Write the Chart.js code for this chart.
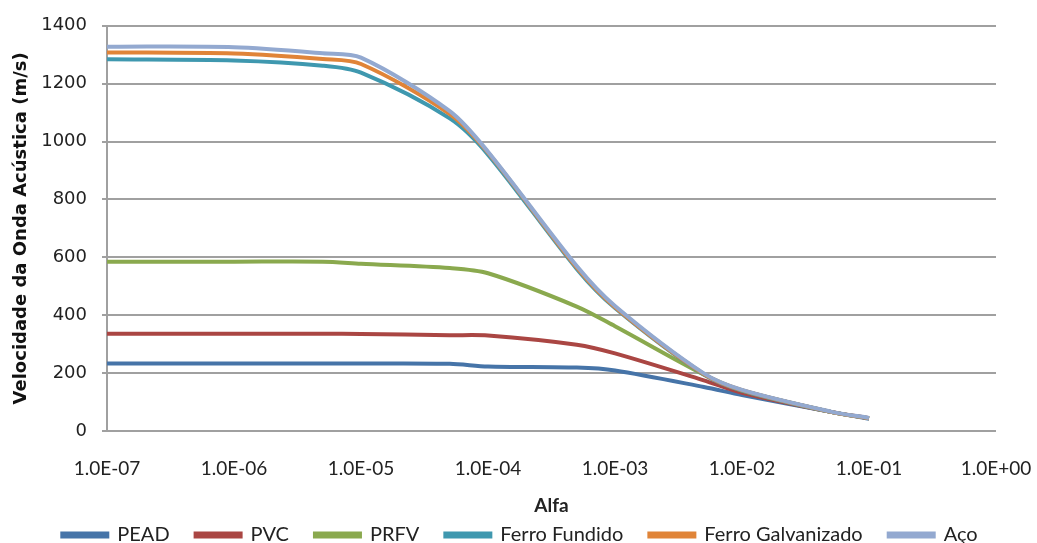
<!DOCTYPE html>
<html>
<head>
<meta charset="utf-8">
<script src="https://cdn.jsdelivr.net/npm/chart.js@4.4.1/dist/chart.umd.min.js"></script>
<style>
  html, body { margin: 0; padding: 0; background: #fff; }
  #wrap { position: relative; width: 1037px; height: 543px; }
</style>
</head>
<body>
<div id="wrap"><canvas id="c" width="1037" height="543"></canvas></div>
<script>
const alfa = [1e-7, 1e-6, 5e-6, 1e-5, 5e-5, 1e-4, 5e-4, 1e-3, 5e-3, 1e-2, 5e-2, 1e-1];
const seriesNames = ["PEAD", "PVC", "PRFV", "Ferro Fundido", "Ferro Galvanizado", "Aço"];
const pead = [233, 233, 233, 233, 232, 223, 219, 209, 152, 124, 66, 42];
const pvc = [336, 336, 336, 335, 331, 330, 298, 268, 175, 132, 66, 44];
const prfv = [585, 585, 585, 578, 563, 545, 430, 362, 195, 140, 66, 44];
const ferroFundido = [1284, 1280, 1262, 1238, 1080, 955, 560, 425, 195, 140, 66, 44];
const ferroGalvanizado = [1308, 1304, 1285, 1268, 1095, 962, 565, 428, 197, 141, 66, 44];
const aco = [1328, 1326, 1305, 1290, 1105, 965, 570, 432, 199, 142, 67, 45];
const xTickValues = [1e-7, 1e-6, 1e-5, 1e-4, 1e-3, 1e-2, 1e-1, 1];
const xTickLabels = ["1.0E-07", "1.0E-06", "1.0E-05", "1.0E-04", "1.0E-03", "1.0E-02", "1.0E-01", "1.0E+00"];

const colors = ["#4674A8", "#AA4643", "#8AA94E", "#3F98AF", "#E08438", "#93A9D0"];
const allData = [pead, pvc, prfv, ferroFundido, ferroGalvanizado, aco];

const datasets = allData.map((vals, i) => ({
  label: seriesNames[i],
  data: vals.map((v, j) => ({ x: alfa[j], y: v })),
  borderColor: colors[i],
  backgroundColor: colors[i],
  borderWidth: 4,
  pointRadius: 0,
  tension: 0.3,
  fill: false,
  order: allData.length - i
}));

const lato = "Lato, 'Open Sans', sans-serif";
const gridGray = '#a0a0a0';
const LEFT_PAD = 3;

new Chart(document.getElementById('c'), {
  type: 'line',
  data: { datasets },
  options: {
    responsive: false,
    animation: false,
    devicePixelRatio: 1,
    layout: { padding: { top: 22, right: 0, bottom: 0, left: LEFT_PAD } },
    plugins: {
      legend: {
        position: 'bottom',
        maxHeight: 44,
        labels: {
          sort: (a, b) => a.datasetIndex - b.datasetIndex,
          boxWidth: 45,
          boxHeight: 3,
          padding: 26,
          color: '#222',
          font: { family: lato, size: 20 }
        }
      },
      tooltip: { enabled: false }
    },
    scales: {
      x: {
        type: 'logarithmic',
        min: 1e-7,
        max: 1,
        afterBuildTicks: (s) => { s.ticks = xTickValues.map(v => ({ value: v })); },
        afterFit: (s) => { s.height = 68; s.paddingLeft = 0; s.paddingRight = 41; },
        grid: { display: false, drawTicks: false },
        border: { display: false },
        ticks: {
          autoSkip: false,
          maxRotation: 0,
          padding: 26,
          color: '#222',
          font: { family: lato, size: 19 },
          callback: (v) => { const k = xTickValues.indexOf(v); return k >= 0 ? xTickLabels[k] : ''; }
        },
        title: {
          display: true,
          text: 'Alfa',
          color: '#222',
          font: { family: lato, size: 19, weight: 'bold' },
          padding: { top: 0, bottom: -18 }
        }
      },
      y: {
        min: 0,
        max: 1400,
        afterFit: (s) => { s.width = 107 - LEFT_PAD; },
        grid: { color: gridGray, lineWidth: 2, tickLength: 5 },
        border: { display: true, color: gridGray, width: 2 },
        ticks: {
          stepSize: 200,
          padding: 15,
          color: '#222',
          font: { family: "'DejaVu Sans', sans-serif", size: 18 },
          callback: (v) => String(v)
        },
        title: {
          display: true,
          text: 'Velocidade da Onda Acústica (m/s)',
          color: '#111',
          font: { family: "'DejaVu Sans', sans-serif", size: 18, weight: 'bold' },
          padding: { top: 11 - LEFT_PAD, bottom: 0 }
        }
      }
    }
  }
});
</script>
</body>
</html>
